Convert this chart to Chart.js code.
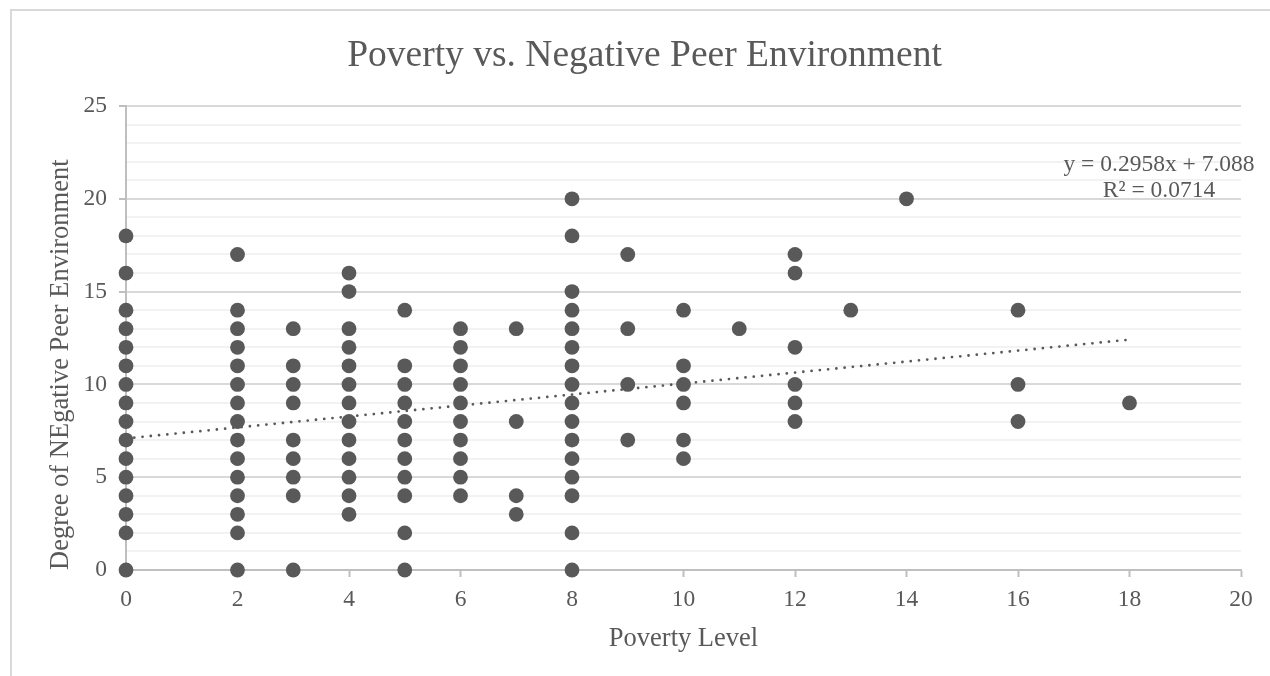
<!DOCTYPE html>
<html>
<head>
<meta charset="utf-8">
<title>Poverty vs. Negative Peer Environment</title>
<script src="https://cdn.jsdelivr.net/npm/chart.js@4.4.1/dist/chart.umd.min.js"></script>
<style>
    html, body { margin: 0; padding: 0; background: #fff; overflow: hidden; }
    .chart-box {
        position: absolute;
        left: 10px;
        top: 9px;
        width: 1266px;
        height: 665px;
        border-top: 2px solid #d9d9d9;
        border-left: 2px solid #d9d9d9;
    }
</style>
</head>
<body>
<div class="chart-box">
    <canvas id="povertyChart" width="1266" height="665"></canvas>
</div>
<script>
// poverty level (x) and degree of negative peer environment (y), one column per line
const povertyLevel = [
    0, 0, 0, 0, 0, 0, 0, 0, 0, 0, 0, 0, 0, 0, 0, 0,
    2, 2, 2, 2, 2, 2, 2, 2, 2, 2, 2, 2, 2, 2, 2,
    3, 3, 3, 3, 3, 3, 3, 3, 3,
    4, 4, 4, 4, 4, 4, 4, 4, 4, 4, 4, 4, 4,
    5, 5, 5, 5, 5, 5, 5, 5, 5, 5, 5,
    6, 6, 6, 6, 6, 6, 6, 6, 6, 6,
    7, 7, 7, 7,
    8, 8, 8, 8, 8, 8, 8, 8, 8, 8, 8, 8, 8, 8, 8, 8,
    9, 9, 9, 9,
    10, 10, 10, 10, 10, 10,
    11,
    12, 12, 12, 12, 12, 12,
    13,
    14,
    16, 16, 16,
    18
];
const peerEnvironment = [
    18, 16, 14, 13, 12, 11, 10, 9, 8, 7, 6, 5, 4, 3, 2, 0,
    17, 14, 13, 12, 11, 10, 9, 8, 7, 6, 5, 4, 3, 2, 0,
    13, 11, 10, 9, 7, 6, 5, 4, 0,
    16, 15, 13, 12, 11, 10, 9, 8, 7, 6, 5, 4, 3,
    14, 11, 10, 9, 8, 7, 6, 5, 4, 2, 0,
    13, 12, 11, 10, 9, 8, 7, 6, 5, 4,
    13, 8, 4, 3,
    20, 18, 15, 14, 13, 12, 11, 10, 9, 8, 7, 6, 5, 4, 2, 0,
    17, 13, 10, 7,
    14, 11, 10, 9, 7, 6,
    13,
    17, 16, 12, 10, 9, 8,
    14,
    20,
    14, 10, 8,
    9
];

// linear trendline end points (y = 0.2958x + 7.088)
const trendX = [0, 18];
const trendY = [7.088, 12.412];
const trendLabel = ['y = 0.2958x + 7.088', 'R² = 0.0714'];

const xTickStep = 2;
const yMajorStep = 5;

const textColor = '#595959';
const serif = '"Liberation Serif", "Times New Roman", serif';

const equationPlugin = {
    id: 'equationLabel',
    afterDatasetsDraw(chart) {
        const ctx = chart.ctx;
        const area = chart.chartArea;
        ctx.save();
        ctx.fillStyle = textColor;
        ctx.font = '23.5px ' + serif;
        ctx.textAlign = 'center';
        ctx.textBaseline = 'alphabetic';
        ctx.fillText(trendLabel[0], area.right - 82, area.top + 64.6);
        ctx.fillText(trendLabel[1], area.right - 82, area.top + 91.3);
        ctx.restore();
    }
};

const ctx = document.getElementById('povertyChart').getContext('2d');
new Chart(ctx, {
    type: 'scatter',
    data: {
        datasets: [
            {
                label: 'Negative Peer Environment',
                data: povertyLevel.map((x, i) => ({ x: x, y: peerEnvironment[i] })),
                backgroundColor: '#595959',
                borderWidth: 0,
                pointRadius: 7.4,
                pointHoverRadius: 7.4,
                clip: false
            },
            {
                type: 'line',
                label: 'Linear trend',
                data: trendX.map((x, i) => ({ x: x, y: trendY[i] })),
                borderColor: '#595959',
                borderWidth: 2.8,
                borderDash: [0, 8.3],
                borderCapStyle: 'round',
                pointRadius: 0,
                fill: false,
                clip: false
            }
        ]
    },
    options: {
        responsive: false,
        animation: false,
        events: [],
        layout: {
            autoPadding: false,
            padding: { left: 0, right: 1, top: 0, bottom: 0 }
        },
        plugins: {
            legend: { display: false },
            tooltip: { enabled: false },
            title: {
                display: true,
                text: 'Poverty vs. Negative Peer Environment',
                color: textColor,
                font: { family: serif, size: 37.5, weight: 'normal' },
                padding: { top: 22.8, bottom: 27.2 }
            }
        },
        scales: {
            x: {
                type: 'linear',
                min: 0,
                max: 20,
                afterFit: scale => { scale.height = 106; },
                ticks: {
                    stepSize: xTickStep,
                    color: textColor,
                    font: { family: serif, size: 23.5 },
                    padding: 9,
                    maxRotation: 0
                },
                grid: {
                    drawOnChartArea: false,
                    drawTicks: true,
                    tickLength: 7,
                    tickColor: '#bfbfbf',
                    tickWidth: 2
                },
                border: { color: '#bfbfbf', width: 2 },
                title: {
                    display: true,
                    text: 'Poverty Level',
                    color: textColor,
                    font: { family: serif, size: 26.5 },
                    padding: { top: 0, bottom: 21.5 }
                }
            },
            y: {
                min: 0,
                max: 25,
                afterFit: scale => { scale.width = 114; },
                ticks: {
                    stepSize: 1,
                    autoSkip: false,
                    color: textColor,
                    font: { family: serif, size: 23.5 },
                    padding: 12,
                    callback: value => (value % yMajorStep === 0 ? value : '')
                },
                grid: {
                    color: c => (c.tick && c.tick.value % yMajorStep === 0 ? '#d9d9d9' : '#f2f2f2'),
                    lineWidth: 2,
                    drawTicks: true,
                    tickLength: 7,
                    tickColor: c => (c.tick && c.tick.value % yMajorStep === 0 ? '#bfbfbf' : 'rgba(0,0,0,0)'),
                    tickWidth: 2
                },
                border: { color: '#bfbfbf', width: 2 },
                title: {
                    display: true,
                    text: 'Degree of NEgative Peer Environment',
                    align: 'start',
                    color: textColor,
                    font: { family: serif, size: 26.5 },
                    padding: { top: 32.7, bottom: 0 }
                }
            },
            // empty right margin so the title centres on the whole chart box
            rightGap: {
                type: 'linear',
                position: 'right',
                afterFit: scale => { scale.width = 36; },
                ticks: { display: false },
                grid: { display: false },
                border: { display: false }
            }
        }
    },
    plugins: [equationPlugin]
});
</script>
</body>
</html>
